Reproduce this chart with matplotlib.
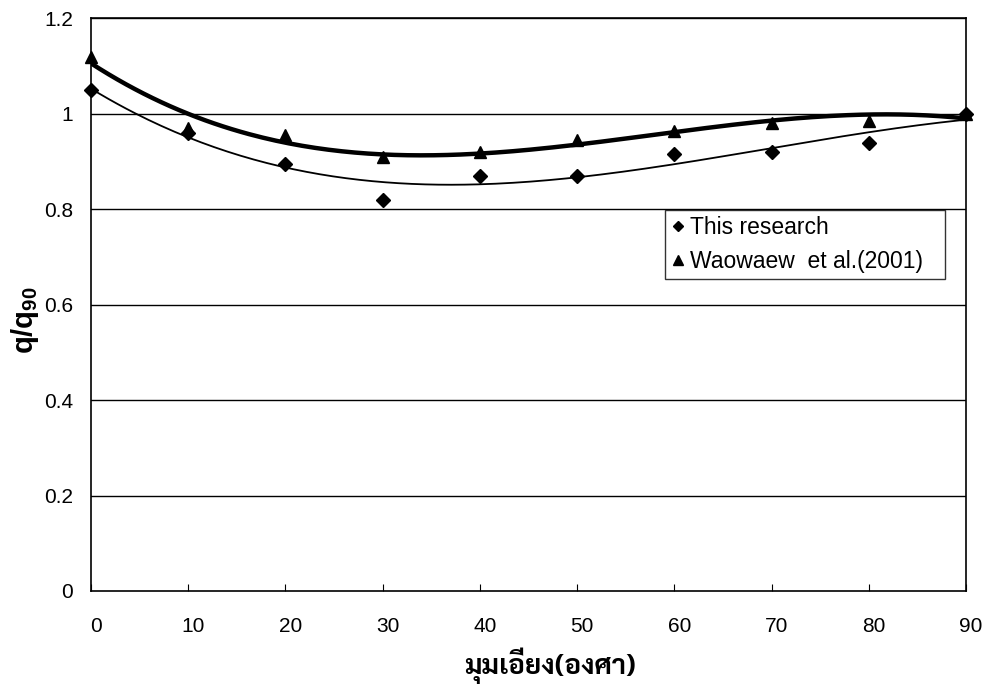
import numpy as np
import matplotlib
matplotlib.use('Agg')
import matplotlib.pyplot as plt
from matplotlib.transforms import ScaledTranslation

plt.rcParams['font.family'] = ['Liberation Sans', 'DejaVu Sans']
plt.rcParams['mathtext.fontset'] = 'custom'
plt.rcParams['mathtext.bf'] = 'Liberation Sans:bold'
plt.rcParams['mathtext.rm'] = 'Liberation Sans'

# tilt angle (degrees) and normalised heat flux q/q90
angle = [0, 10, 20, 30, 40, 50, 60, 70, 80, 90]
q_this = [1.05, 0.96, 0.895, 0.82, 0.87, 0.87, 0.915, 0.92, 0.94, 1.0]
q_waowaew = [1.12, 0.97, 0.955, 0.91, 0.92, 0.945, 0.965, 0.98, 0.985, 1.0]

y_ticks = [0, 0.2, 0.4, 0.6, 0.8, 1, 1.2]
y_tick_labels = ['0', '0.2', '0.4', '0.6', '0.8', '1', '1.2']
x_ticks = [0, 10, 20, 30, 40, 50, 60, 70, 80, 90]

fig = plt.figure(figsize=(9.85, 6.97), dpi=100)
ax = fig.add_axes([0.0924, 0.1521, 0.8883, 0.8214])

# 3rd order polynomial trendlines
xs = np.linspace(0, 90, 200)
fit_this = np.polyval(np.polyfit(angle, q_this, 3), xs)
fit_waow = np.polyval(np.polyfit(angle, q_waowaew, 3), xs)

for y in y_ticks[1:]:
    ax.axhline(y, color='black', lw=1.0, zorder=1)

ax.plot(xs, fit_this, color='black', lw=1.3, zorder=2)
ax.plot(xs, fit_waow, color='black', lw=3.2, zorder=2)

ax.plot(angle, q_this, linestyle='none', marker='D', markersize=7,
        color='black', label='This research', zorder=3, clip_on=False)
ax.plot(angle, q_waowaew, linestyle='none', marker='^', markersize=9,
        color='black', label='Waowaew  et al.(2001)', zorder=3, clip_on=False)

ax.set_xlim(0, 90)
ax.set_ylim(0, 1.2)
ax.set_yticks(y_ticks)
ax.set_yticklabels(y_tick_labels)
ax.set_xticks(x_ticks)
ax.tick_params(axis='y', length=0, pad=13, labelsize=15)
ax.tick_params(axis='x', direction='in', length=5, width=0.8, pad=19,
               labelsize=15)
for lbl in ax.get_xticklabels():
    lbl.set_transform(lbl.get_transform() +
                      ScaledTranslation(5 / 100, 0, fig.dpi_scale_trans))

for s in ax.spines.values():
    s.set_linewidth(1.2)

ax.set_ylabel(r'$\mathbf{q/q_{90}}$', fontsize=21, va='center')
ax.yaxis.set_label_coords(-0.076, 0.473)
ax.set_xlabel('มุมเอียง(องศา)', fontsize=20, fontweight='bold',
              family=['Sarabun', 'Noto Sans Thai', 'DejaVu Sans'])
ax.xaxis.set_label_coords(0.525, -0.13)
ax.xaxis.label.set_va('center')

leg = ax.legend(loc='upper left', bbox_to_anchor=(0.656, 0.6655, 0.32, 0),
                mode='expand', frameon=True, fancybox=False,
                edgecolor='black', fontsize=16.5, handlelength=0.55,
                handletextpad=0.25, borderpad=0.28, borderaxespad=0,
                labelspacing=0.45, markerscale=0.75)
leg.get_frame().set_linewidth(1.0)

fig.savefig('out.png', dpi=100)
